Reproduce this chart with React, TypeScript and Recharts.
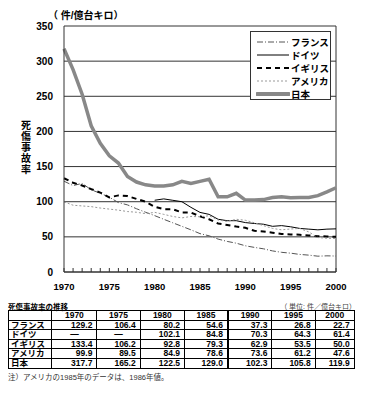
import { LineChart, Line, XAxis, YAxis, CartesianGrid, ReferenceLine } from 'recharts';

// 1970 - 2000 (件/億台キロ)
const years = [
  1970, 1971, 1972, 1973, 1974, 1975, 1976, 1977, 1978, 1979,
  1980, 1981, 1982, 1983, 1984, 1985, 1986, 1987, 1988, 1989,
  1990, 1991, 1992, 1993, 1994, 1995, 1996, 1997, 1998, 1999, 2000,
];
const france = [
  129.2, 123, 126, 117, 112, 106.4, 98.8, 95.5, 90, 85,
  80.2, 75, 70, 65, 60, 54.6, 51.5, 46.8, 43.5, 41,
  37.3, 35, 33, 30, 28, 26.8, 25, 24, 22.5, 23, 22.7,
];
const germany = [
  null, null, null, null, null, null, null, null, null, null,
  102.1, 104, 102, 100, 92, 84.8, 82, 75, 73, 73,
  70.3, 69, 68, 65, 66, 64.3, 62, 61, 60, 61, 61.4,
];
const britain = [
  133.4, 127, 123, 118, 113, 106.2, 109, 108, 104, 100,
  92.8, 89.4, 89.4, 84.6, 84.6, 79.3, 75, 69, 67, 64.7,
  62.9, 58.6, 57.6, 56, 54, 53.5, 53, 52, 51, 50.5, 50.0,
];
const america = [
  99.9, 95, 94, 93, 91, 89.5, 88, 86, 85, 83,
  84.9, 82, 79, 77, 79, 78.6, 80, 74, 72, 75,
  73.6, 70, 66, 62, 60, 61.2, 62, 57, 49, 48, 47.6,
];
const japan = [
  317.7, 288, 253, 208, 183, 165.2, 155, 136, 128, 124,
  122.5, 122.5, 124, 129, 126, 129.0, 132, 107, 107, 112,
  102.3, 102.6, 103, 106, 107, 105.8, 106, 106, 108.7, 114, 119.9,
];
const yTicks = [0, 50, 100, 150, 200, 250, 300, 350];
const tableYears = [1970, 1975, 1980, 1985, 1990, 1995, 2000];

const seriesList = [
  { key: 'france', name: 'フランス', values: france, stroke: '#555', width: 1, dash: '6 2 1 2' },
  { key: 'germany', name: 'ドイツ', values: germany, stroke: '#000', width: 1, dash: undefined },
  { key: 'britain', name: 'イギリス', values: britain, stroke: '#000', width: 2, dash: '5 4' },
  { key: 'america', name: 'アメリカ', values: america, stroke: '#999', width: 1, dash: '2 2' },
  { key: 'japan', name: '日本', values: japan, stroke: '#888', width: 3.5, dash: undefined },
];

const chartData = years.map((year, i) => {
  const row: Record<string, number | null> = { year };
  seriesList.forEach((s) => {
    row[s.key] = s.values[i];
  });
  return row;
});

const fontFamily = '"Liberation Sans", Arial, "Noto Sans CJK JP", sans-serif';

// bottom axis: small inward ticks every year, labels every 5 years
const YearTick = ({ x, y, payload }: { x: number; y: number; payload: { value: number } }) => (
  <g>
    <line x1={x} y1={y} x2={x} y2={y - 4} stroke="#333" strokeWidth={1} />
    {payload.value % 5 === 0 && (
      <text x={x} y={y + 18} textAnchor="middle" fontSize={9.5} fontWeight="bold" fill="#000" fontFamily={fontFamily}>
        {payload.value}
      </text>
    )}
  </g>
);

const LegendBox = () => (
  <div
    style={{
      position: 'absolute',
      left: 250,
      top: 31,
      border: '1px solid #333',
      background: '#fff',
      width: 81,
      height: 69,
      boxSizing: 'border-box',
      padding: '3px 0 0 5px',
    }}
  >
    {seriesList.map((s) => (
      <div key={s.key} style={{ display: 'flex', alignItems: 'center', height: 13 }}>
        <svg width={34} height={8}>
          <line
            x1={1}
            y1={4}
            x2={33}
            y2={4}
            stroke={s.stroke}
            strokeWidth={s.key === 'japan' ? 4 : s.width}
            strokeDasharray={s.dash}
            strokeLinecap={s.key === 'japan' ? 'round' : 'butt'}
          />
        </svg>
        <span style={{ fontSize: 9.5, fontWeight: 'bold', marginLeft: 1, color: '#000' }}>{s.name}</span>
      </div>
    ))}
  </div>
);

const fmt = (v: number | null) => (v === null ? '—' : v.toFixed(1));

const colWidths = [43.4, 45, 43.3, 44.3, 43.4, 44, 43.3, 39];
const cell = { border: '1px solid #000', height: 8.6, padding: 0, lineHeight: '8.6px' };

export default function App() {
  return (
    <div style={{ position: 'absolute', left: 0, top: 0, width: 366, height: 395, background: '#fff', fontFamily }}>
      <div style={{ position: 'absolute', left: 48, top: 7, fontSize: 10, fontWeight: 'bold' }}>（ 件/億台キロ）</div>
      <div
        style={{
          position: 'absolute',
          left: 20,
          top: 120,
          width: 12,
          fontSize: 10,
          lineHeight: '11px',
          fontWeight: 'bold',
          textAlign: 'center',
        }}
      >
        {'死傷事故率'.split('').map((c, i) => (
          <div key={i}>{c}</div>
        ))}
      </div>

      <LineChart width={366} height={300} data={chartData} margin={{ top: 26, right: 30, left: 0, bottom: 0 }}>
        <CartesianGrid vertical={false} stroke="#333" strokeWidth={1} />
        <XAxis
          dataKey="year"
          type="number"
          domain={[1970, 2000]}
          ticks={years}
          interval={0}
          tickLine={false}
          tickSize={0}
          tickMargin={0}
          height={28}
          axisLine={{ stroke: '#333' }}
          tick={YearTick}
        />
        <YAxis
          domain={[0, 350]}
          ticks={yTicks}
          width={64}
          tickLine={false}
          tickSize={6}
          tickMargin={5}
          axisLine={{ stroke: '#333' }}
          tick={{ fontSize: 10, fontWeight: 'bold', fill: '#000', fontFamily }}
        />
        <ReferenceLine x={2000} stroke="#333" />
        {seriesList.map((s) => (
          <Line
            key={s.key}
            dataKey={s.key}
            name={s.name}
            stroke={s.stroke}
            strokeWidth={s.width}
            strokeDasharray={s.dash}
            dot={false}
            connectNulls={false}
            isAnimationActive={false}
          />
        ))}
      </LineChart>

      <LegendBox />

      <div style={{ position: 'absolute', left: 8, top: 301, fontSize: 7.5, fontWeight: 'bold' }}>死傷事故率の推移</div>
      <div style={{ position: 'absolute', right: 10, top: 301, fontSize: 7, color: '#444' }}>（ 単位: 件／億台キロ）</div>

      <table
        style={{
          position: 'absolute',
          left: 8,
          top: 310,
          width: 346,
          borderCollapse: 'collapse',
          tableLayout: 'fixed',
          fontSize: 8.5,
          fontWeight: 'bold',
        }}
      >
        <colgroup>
          {colWidths.map((w, i) => (
            <col key={i} style={{ width: w }} />
          ))}
        </colgroup>
        <tbody>
          <tr>
            <td style={cell}></td>
            {tableYears.map((y) => (
              <td
                key={y}
                style={{
                  ...cell,
                  borderLeft: y === 1990 ? '2px solid #000' : '1px solid #000',
                  textAlign: 'center',
                }}
              >
                {y}
              </td>
            ))}
          </tr>
          {seriesList.map((s) => (
            <tr key={s.key}>
              <td style={{ ...cell, paddingLeft: 2, whiteSpace: 'nowrap' }}>{s.name}</td>
              {tableYears.map((y) => {
                const v = s.values[years.indexOf(y)];
                return (
                  <td
                    key={y}
                    style={{
                      ...cell,
                      borderLeft: y === 1990 ? '2px solid #000' : '1px solid #000',
                      paddingRight: v === null ? 0 : 4,
                      textAlign: v === null ? 'center' : 'right',
                    }}
                  >
                    {fmt(v)}
                  </td>
                );
              })}
            </tr>
          ))}
        </tbody>
      </table>

      <div style={{ position: 'absolute', left: 8, top: 371, fontSize: 7.5, color: '#333', fontWeight: 'normal' }}>
        注）アメリカの1985年のデータは、1986年値。
      </div>
    </div>
  );
}
